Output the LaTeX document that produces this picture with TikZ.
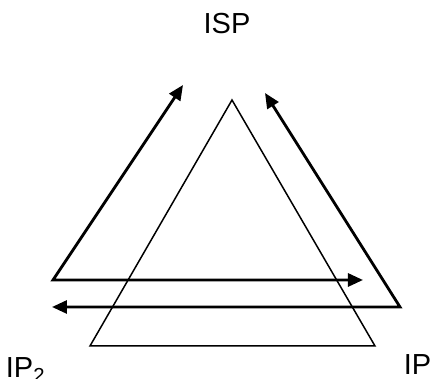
\documentclass[tikz,border=0pt]{standalone}
\usepackage{fontspec}
\setmainfont{Liberation Sans}
\usetikzlibrary{arrows.meta}
\tikzset{
  flow/.style={line width=1.4pt, {Triangle[length=7.5pt,width=6.5pt]}-{Triangle[length=7.5pt,width=6.5pt]}},
  tri/.style={line width=0.75pt},
  lbl/.style={font=\fontsize{14.5}{17}\selectfont, inner sep=0pt}
}
\begin{document}
\begin{tikzpicture}[x=0.5pt, y=-0.5pt]
  \useasboundingbox (0,0) rectangle (430,379);
  % triangle
  \coordinate (apex) at (232,100);
  \coordinate (botl) at (90,346);
  \coordinate (botr) at (375,346);
  \draw[tri] (apex) -- (botl) -- (botr) -- cycle;
  % left arrow pair
  \coordinate (lcorner) at (53,280);
  \coordinate (ltip) at (183,85);
  \coordinate (lend) at (363,280);
  \draw[flow] (ltip) -- (lcorner) -- (lend);
  % right arrow pair
  \coordinate (rcorner) at (400,307);
  \coordinate (rtip) at (265,93);
  \coordinate (rend) at (52,307);
  \draw[flow] (rtip) -- (rcorner) -- (rend);
  % labels
  \node[lbl, anchor=base] (isp) at (227,34) {ISP};
  \node[lbl, anchor=base west] (iptwo) at (5.5,378) {IP\textsubscript{2}};
  \node[lbl, anchor=base west] (ipone) at (403.5,375) {IP};
\end{tikzpicture}
\end{document}
